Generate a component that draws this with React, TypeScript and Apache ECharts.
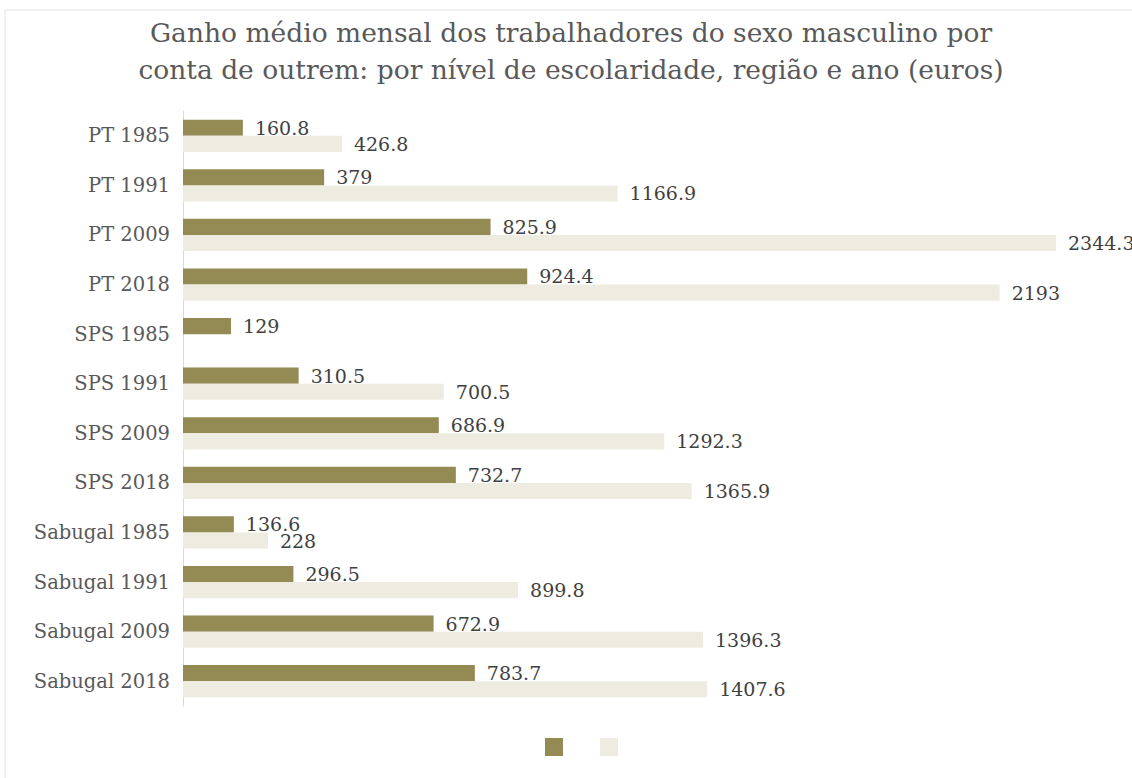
import React, { useEffect, useRef } from "react";
import * as echarts from "echarts";

const categories = [
  "PT 1985", "PT 1991", "PT 2009", "PT 2018",
  "SPS 1985", "SPS 1991", "SPS 2009", "SPS 2018",
  "Sabugal 1985", "Sabugal 1991", "Sabugal 2009", "Sabugal 2018",
];
const seriesA = [160.8, 379, 825.9, 924.4, 129, 310.5, 686.9, 732.7, 136.6, 296.5, 672.9, 783.7];
const seriesB = [426.8, 1166.9, 2344.3, 2193, null, 700.5, 1292.3, 1365.9, 228, 899.8, 1396.3, 1407.6];
const titleText = "Ganho médio mensal dos trabalhadores do sexo masculino por\nconta de outrem: por nível de escolaridade, região e ano (euros)";

const FONT = "DejaVu Serif";

export default function App() {
  const ref = useRef<HTMLDivElement>(null);
  useEffect(() => {
    const chart = echarts.init(ref.current!, null, { renderer: "svg" });
    const label = {
      show: true,
      position: "right" as const,
      distance: 12,
      color: "#404040",
      fontFamily: FONT,
      fontSize: 19,
    };
    chart.setOption({
      animation: false,
      backgroundColor: "#ffffff",
      title: {
        text: titleText,
        left: 571,
        textAlign: "center",
        top: 14,
        padding: 0,
        textStyle: {
          fontFamily: FONT,
          fontSize: 26.5,
          fontWeight: "normal",
          color: "#595959",
          lineHeight: 37,
        },
      },
      graphic: [
        {
          type: "rect",
          shape: { x: 5, y: 10, width: 1300, height: 900 },
          style: { fill: "none", stroke: "#E3E3E3", lineWidth: 1 },
          silent: true,
          z: -1,
        },
      ],
      legend: {
        bottom: 17,
        left: 540,
        icon: "rect",
        itemWidth: 18,
        itemHeight: 18,
        itemGap: 37,
        formatter: () => "",
        data: ["a", "b"],
      },
      grid: { left: 183, right: 18, top: 111, bottom: 72, containLabel: false },
      xAxis: {
        type: "value",
        min: 0,
        max: 2500,
        show: false,
      },
      yAxis: {
        type: "category",
        inverse: true,
        data: categories,
        axisTick: { show: false },
        axisLine: { show: true, lineStyle: { color: "#D9D9D9", width: 1 } },
        axisLabel: {
          color: "#595959",
          fontFamily: FONT,
          fontSize: 19.5,
          margin: 13,
        },
      },
      series: [
        {
          name: "a",
          type: "bar",
          data: seriesA,
          barGap: "0%",
          barCategoryGap: "35%",
          itemStyle: { color: "#948A54" },
          label,
        },
        {
          name: "b",
          type: "bar",
          data: seriesB,
          itemStyle: { color: "#EEECE1" },
          label,
        },
      ],
    });
    return () => chart.dispose();
  }, []);
  return (
    <div
      ref={ref}
      style={{ position: "fixed", left: 0, top: 0, width: 1132, height: 778 }}
    />
  );
}
